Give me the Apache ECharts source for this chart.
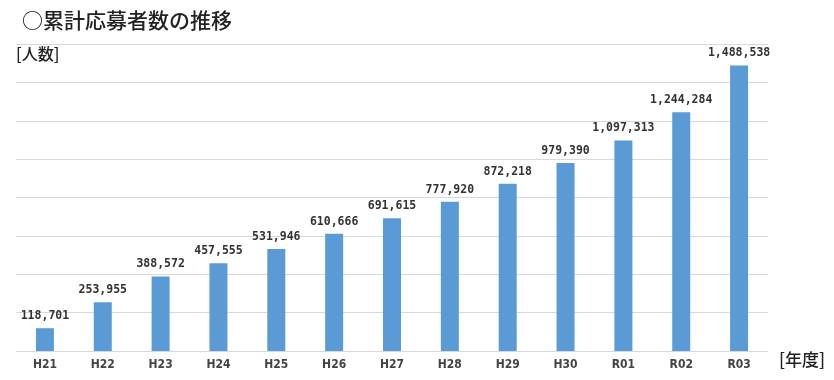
<!DOCTYPE html>
<html><head><meta charset="utf-8">
<script src="https://cdn.jsdelivr.net/npm/echarts@6/dist/echarts.min.js"></script>
<style>html,body{margin:0;padding:0;background:#fff}#c{width:834px;height:380px}</style>
</head><body><div id="c"></div>
<script>
const categories = ['H21','H22','H23','H24','H25','H26','H27','H28','H29','H30','R01','R02','R03'];
const applicants = [118701,253955,388572,457555,531946,610666,691615,777920,872218,979390,1097313,1244284,1488538];
const titleText = '○累計応募者数の推移';
const yUnit = '[人数]';
const xUnit = '[年度]';

const chart = echarts.init(document.getElementById('c'));
chart.setOption({
  animation: false,
  title: {
    text: titleText, left: 17, top: 5,
    textStyle: {fontFamily: 'Noto Sans CJK JP', fontSize: 21, fontWeight: 500, color: '#222'}
  },
  graphic: [
    {type: 'text', left: 16, top: 46, style: {text: yUnit, font: '500 16px "Noto Sans CJK JP"', fill: '#222'}},
    {type: 'text', left: 779, top: 351, style: {text: xUnit, font: '500 17px "Noto Sans CJK JP"', fill: '#222'}}
  ],
  grid: {left: 16, right: 66, top: 44, bottom: 29},
  xAxis: {
    type: 'category', data: categories,
    axisTick: {show: false},
    axisLine: {lineStyle: {color: '#D9D9D9'}},
    axisLabel: {margin: 8, fontFamily: '"Liberation Sans Narrow", "DejaVu Sans Condensed", sans-serif', fontWeight: 'bold', fontSize: 12, color: '#444'}
  },
  yAxis: {
    type: 'value', min: 0, max: 1600000, interval: 200000,
    axisLabel: {show: false}, axisLine: {show: false}, axisTick: {show: false},
    splitLine: {lineStyle: {color: '#D9D9D9'}}
  },
  series: [{
    type: 'bar', data: applicants, barWidth: 18,
    itemStyle: {color: '#5B9BD5'},
    label: {
      show: true, position: 'top', distance: 6,
      fontFamily: '"DejaVu Sans Mono", monospace', fontSize: 11.5, fontWeight: 'bold', color: '#333',
      formatter: p => p.value.toLocaleString('en-US')
    }
  }]
});
</script></body></html>
